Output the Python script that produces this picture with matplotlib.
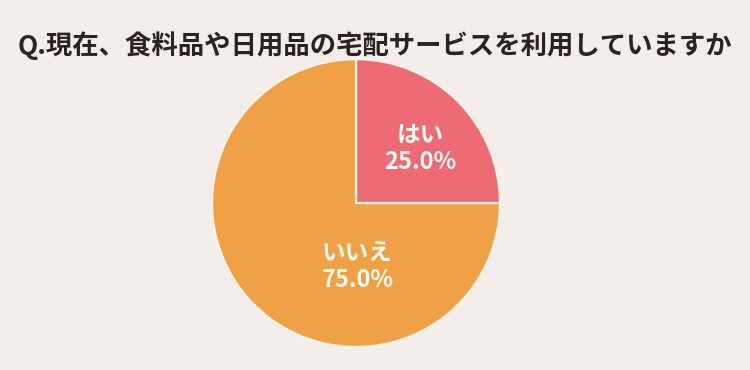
import matplotlib.pyplot as plt

plt.rcParams["font.family"] = ["Noto Sans CJK JP", "DejaVu Sans"]

BG = "#f3eeea"
PINK = "#ee6a74"
ORANGE = "#f0a045"
EDGE = "#fdf3e6"
TEXT_DARK = "#2b2222"
LABEL = "#fffaf3"

# data
labels = ["はい", "いいえ"]
values = [25.0, 75.0]
colors = [PINK, ORANGE]

fig = plt.figure(figsize=(7.5, 3.7), dpi=100)
fig.patch.set_facecolor(BG)

ax = fig.add_axes([0.2827, 0.0622, 0.384, 0.778])
ax.set_facecolor(BG)

wedges, _ = ax.pie(
    values,
    colors=colors,
    startangle=90,
    counterclock=False,
    wedgeprops=dict(edgecolor=EDGE, linewidth=1.6),
)
ax.set_xlim(-1.0, 1.0)
ax.set_ylim(-1.0, 1.0)
ax.set_aspect("equal")

# label positions (fraction of radius)
label_pos = [(0.45, 0.38), (0.01, -0.44)]
for (x, y), lab, val in zip(label_pos, labels, values):
    ax.text(x, y, f"{lab}\n{val:.1f}%", ha="center", va="center",
            color=LABEL, fontsize=17, fontweight="bold", linespacing=1.15)

fig.text(0.500, 0.878, "Q.現在、食料品や日用品の宅配サービスを利用していますか",
         ha="center", va="center", color=TEXT_DARK, fontsize=19,
         fontweight="bold")

fig.savefig("out.png", dpi=100, facecolor=BG)
